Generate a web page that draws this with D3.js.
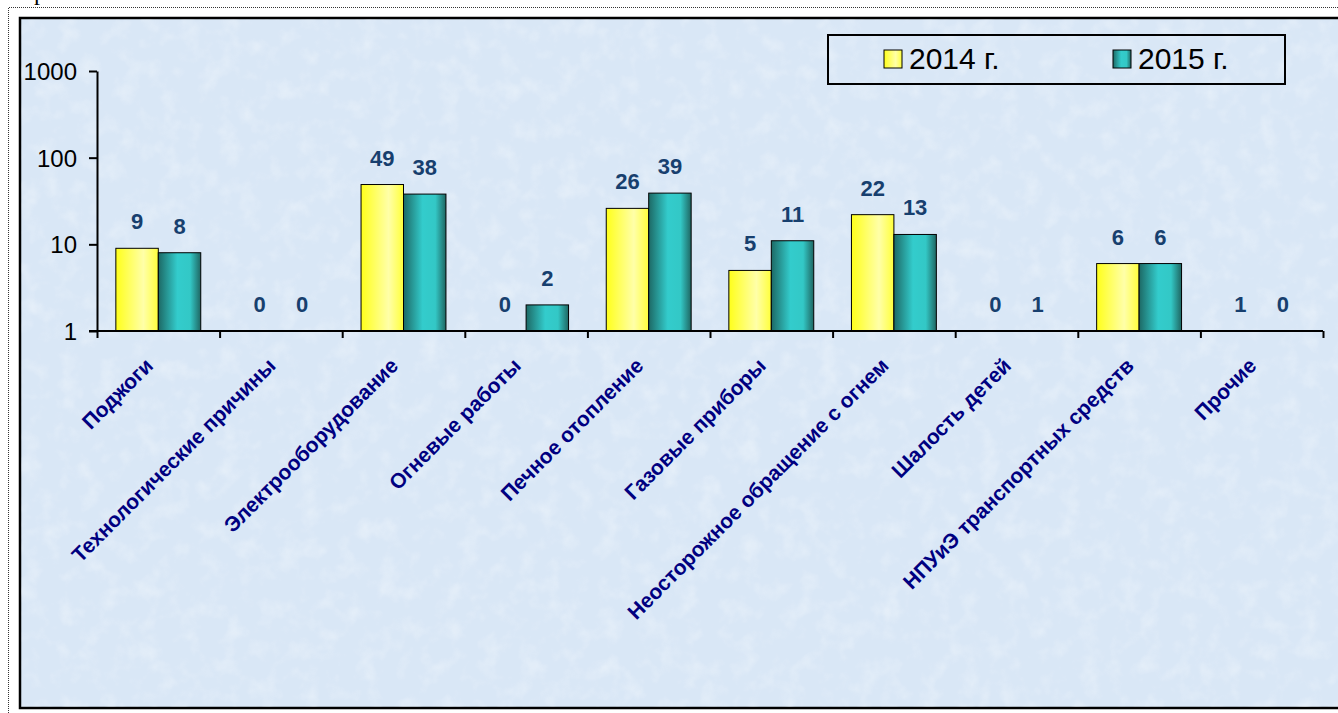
<!DOCTYPE html>
<html>
<head>
<meta charset="utf-8">
<script src="https://cdn.jsdelivr.net/npm/d3@7/dist/d3.min.js"></script>
<style>
  body { margin: 0; background: #ffffff; }
  svg { display: block; }
</style>
</head>
<body>
<script>
// chart data
var categories = ["Поджоги", "Технологические причины", "Электрооборудование",
                  "Огневые работы", "Печное отопление", "Газовые приборы",
                  "Неосторожное обращение с огнем", "Шалость детей",
                  "НПУиЭ транспортных средств", "Прочие"];
var seriesNames = ["2014 г.", "2015 г."];
var values2014 = [9, 0, 49, 0, 26, 5, 22, 0, 6, 1];
var values2015 = [8, 0, 38, 2, 39, 11, 13, 1, 6, 0];
var yTicks = [1, 10, 100, 1000];

// size of page and plot
var w = 1338;
var h = 713;
var plotLeft = 97;
var plotRight = 1323;
var plotTop = 71;
var plotBottom = 331;

var font = "'Liberation Sans', Arial, sans-serif";
var labelColor = "#173f6e";
var catColor = "#000080";

var svg = d3.select("body")
            .append("svg")
            .attr("width", w)
            .attr("height", h);

var defs = svg.append("defs");

// gradients for the bars
var yellow = defs.append("linearGradient").attr("id", "gYellow");
yellow.append("stop").attr("offset", "0%").attr("stop-color", "#ffff1a");
yellow.append("stop").attr("offset", "65%").attr("stop-color", "#ffffa8");
yellow.append("stop").attr("offset", "100%").attr("stop-color", "#ffff3a");

var teal = defs.append("linearGradient").attr("id", "gTeal");
teal.append("stop").attr("offset", "0%").attr("stop-color", "#1d6965");
teal.append("stop").attr("offset", "45%").attr("stop-color", "#33cccc");
teal.append("stop").attr("offset", "75%").attr("stop-color", "#33c8c6");
teal.append("stop").attr("offset", "100%").attr("stop-color", "#1f6662");

var fills = ["url(#gYellow)", "url(#gTeal)"];

// mottled paper texture
var noise = defs.append("filter").attr("id", "paper")
                .attr("x", 0).attr("y", 0).attr("width", "100%").attr("height", "100%");
noise.append("feTurbulence")
     .attr("type", "fractalNoise")
     .attr("baseFrequency", "0.05")
     .attr("numOctaves", 3)
     .attr("seed", 4);
noise.append("feColorMatrix")
     .attr("type", "matrix")
     .attr("values", "0 0 0 0 1  0 0 0 0 1  0 0 0 0 1  1.5 0 0 0 -0.7");

// text cut at the top of the page
svg.append("text")
   .attr("x", 34)
   .attr("y", 0)
   .attr("font-family", "'Liberation Serif', 'Times New Roman', serif")
   .attr("font-size", 24)
   .text("р");

// dotted page frame
svg.append("path")
   .attr("d", "M8.5," + h + "V7.5H" + w)
   .attr("fill", "none")
   .attr("stroke", "#333")
   .attr("stroke-width", 1)
   .attr("stroke-dasharray", "1,1");

// chart area
svg.append("rect")
   .attr("x", 20)
   .attr("y", 18)
   .attr("width", w + 10)
   .attr("height", 690)
   .attr("fill", "#d9e7f6")
   .attr("stroke", "#000")
   .attr("stroke-width", 2.5);

svg.append("rect")
   .attr("x", 21.5)
   .attr("y", 19.5)
   .attr("width", w)
   .attr("height", 687)
   .attr("filter", "url(#paper)")
   .attr("opacity", 0.45);

// scales
var y = d3.scaleLog()
          .domain([1, 1000])
          .range([plotBottom, plotTop]);

var x0 = d3.scaleBand()
           .domain(categories)
           .range([plotLeft, plotRight])
           .padding(0);

var x1 = d3.scaleBand()
           .domain(seriesNames)
           .range([0, x0.bandwidth()])
           .paddingInner(0)
           .paddingOuter(0.444);

var xTick = d3.scaleLinear()
              .domain([0, categories.length])
              .range([plotLeft, plotRight]);

// table for the bars
var table = categories.map(function(c, i) {
  return {cat: c, vals: [values2014[i], values2015[i]]};
});

// y axis
var yAxis = d3.axisLeft(y)
              .tickValues(yTicks)
              .tickFormat(d3.format("d"))
              .tickSize(8)
              .tickSizeOuter(0);

var gy = svg.append("g")
            .attr("transform", "translate(" + plotLeft + ",0)")
            .call(yAxis);
gy.select(".domain").attr("stroke-width", 2);
gy.selectAll(".tick line").attr("stroke-width", 2);
gy.selectAll(".tick text")
  .attr("x", -20)
  .attr("dy", "0.36em")
  .attr("font-family", font)
  .attr("font-size", 24)
  .attr("fill", "#000");

// bars
var groups = svg.selectAll(".group")
                .data(table)
                .enter()
                .append("g")
                .attr("class", "group")
                .attr("transform", function(d) {
                  return "translate(" + x0(d.cat) + ",0)";
                });

groups.selectAll("rect")
      .data(function(d) { return d.vals; })
      .enter()
      .append("rect")
      .attr("x", function(d, i) { return x1(seriesNames[i]); })
      .attr("width", x1.bandwidth())
      .attr("y", function(d) { return d > 1 ? y(d) : plotBottom; })
      .attr("height", function(d) { return d > 1 ? plotBottom - y(d) : 0; })
      .attr("fill", function(d, i) { return fills[i]; })
      .attr("stroke", "#000")
      .attr("stroke-width", 1);

// value labels
groups.selectAll(".val")
      .data(function(d) { return d.vals; })
      .enter()
      .append("text")
      .attr("class", "val")
      .attr("x", function(d, i) { return x1(seriesNames[i]) + x1.bandwidth() / 2; })
      .attr("y", function(d) { return (d > 1 ? y(d) : plotBottom) - 19; })
      .attr("text-anchor", "middle")
      .attr("font-family", font)
      .attr("font-size", 22)
      .attr("font-weight", "bold")
      .attr("fill", labelColor)
      .text(function(d) { return d; });

// x axis with ticks between categories
var xAxis = d3.axisBottom(xTick)
              .tickValues(d3.range(categories.length + 1))
              .tickFormat("")
              .tickSize(7)
              .tickSizeOuter(0);

var gx = svg.append("g")
            .attr("transform", "translate(0," + plotBottom + ")")
            .call(xAxis);
gx.select(".domain").remove();
gx.selectAll(".tick line").attr("stroke-width", 2);
gx.append("line")
  .attr("x1", plotLeft - 8)
  .attr("x2", plotRight)
  .attr("stroke", "#000")
  .attr("stroke-width", 2);

// rotated category labels
svg.selectAll(".cat")
   .data(categories)
   .enter()
   .append("text")
   .attr("class", "cat")
   .attr("transform", function(d) {
     return "translate(" + (x0(d) + x0.bandwidth() / 2 - 4) + "," + (plotBottom + 36) + ") rotate(-45)";
   })
   .attr("text-anchor", "end")
   .attr("font-family", font)
   .attr("font-size", 21)
   .attr("font-weight", "bold")
   .attr("fill", catColor)
   .text(function(d) { return d; });

// legend
var legend = svg.append("g");

legend.append("rect")
      .attr("x", 828)
      .attr("y", 35)
      .attr("width", 457)
      .attr("height", 49)
      .attr("fill", "none")
      .attr("stroke", "#000")
      .attr("stroke-width", 2);

var legendX = [884, 1113];

legend.selectAll(".sw")
      .data(seriesNames)
      .enter()
      .append("rect")
      .attr("class", "sw")
      .attr("x", function(d, i) { return legendX[i]; })
      .attr("y", 50)
      .attr("width", 18)
      .attr("height", 18)
      .attr("fill", function(d, i) { return fills[i]; })
      .attr("stroke", "#000")
      .attr("stroke-width", 1);

legend.selectAll(".lt")
      .data(seriesNames)
      .enter()
      .append("text")
      .attr("class", "lt")
      .attr("x", function(d, i) { return legendX[i] + 25; })
      .attr("y", 69)
      .attr("font-family", font)
      .attr("font-size", 30)
      .attr("fill", "#000")
      .text(function(d) { return d; });
</script>
</body>
</html>
